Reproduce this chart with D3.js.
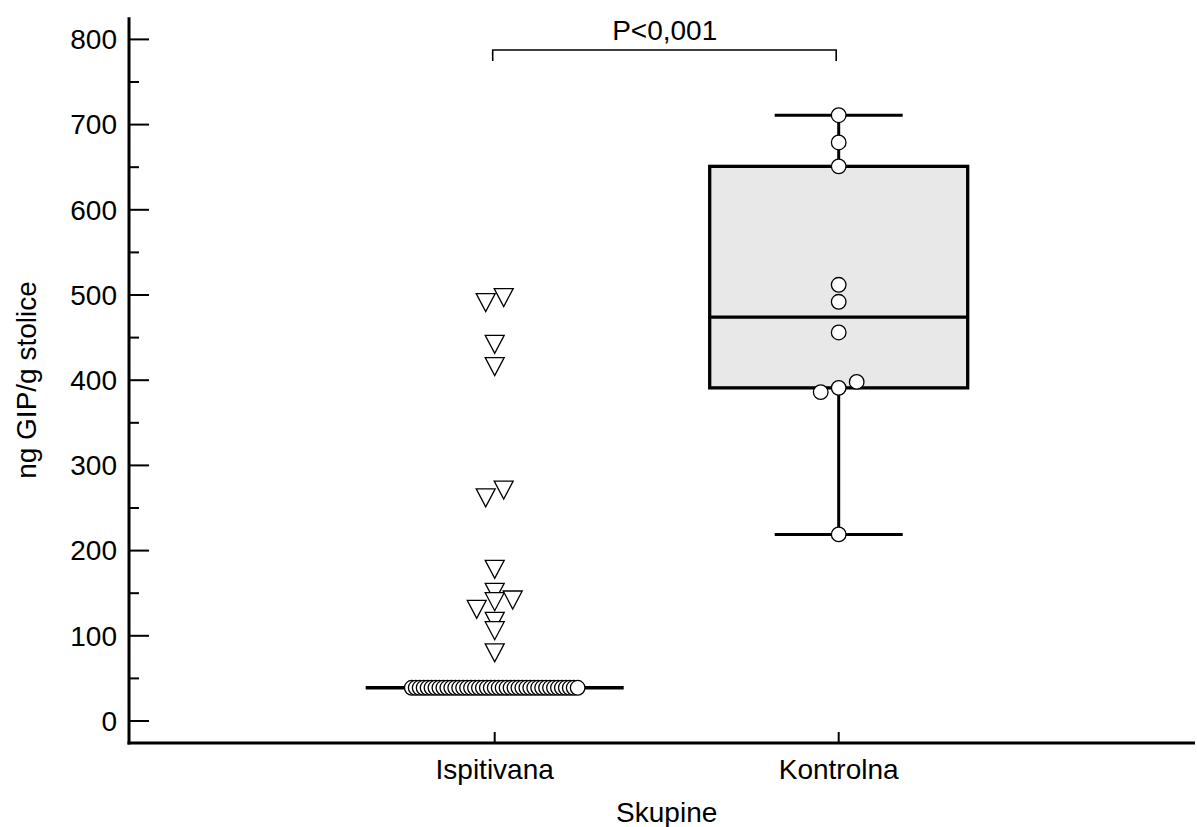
<!DOCTYPE html>
<html>
<head>
<meta charset="utf-8">
<script src="https://cdn.jsdelivr.net/npm/d3@7"></script>
<style>
  body { margin: 0; background: #fff; }
  svg text { font-family: "Liberation Sans", Arial, sans-serif; fill: #000; }
</style>
</head>
<body>
<svg width="1197" height="827"></svg>
<script>
const width = 1197;
const height = 827;

// Data
const categories = ["Ispitivana", "Kontrolna"];
const yTicks = [0, 100, 200, 300, 400, 500, 600, 700, 800];
const yMinorTicks = [50, 150, 250, 350, 450, 550, 650, 750];

// Ispitivana: values at the detection limit (drawn as circles)
const ispitivanaLow = [39, 39, 39, 39, 39, 39, 39, 39, 39, 39, 39, 39, 39, 39, 39, 39, 39, 39, 39, 39, 39, 39,
                       39, 39, 39, 39, 39, 39, 39, 39, 39, 39, 39, 39, 39, 39, 39, 39, 39, 39, 39, 39, 39];
// Ispitivana: outside values (triangles) and their side-by-side slot
const ispitivanaOutliers = [491, 497, 442, 416, 262, 271, 178, 151, 140, 142, 131, 117, 106, 80];
const ispitivanaOutlierSlot = [-0.5, 0.5, 0, 0, -0.5, 0.5, 0, 0, 0, 1, -1, 0, 0, 0];

// Kontrolna values and slot
const kontrolnaValues = [711, 679, 651, 512, 492, 456, 386, 391, 398, 219];
const kontrolnaSlot = [0, 0, 0, 0, 0, 0, -1, 0, 1, 0];

// Box statistics per category
const boxQ1 = [39, 391];
const boxMedian = [39, 474];
const boxQ3 = [39, 651];
const whiskerLow = [39, 219];
const whiskerHigh = [39, 711];

const pValueText = "P<0,001";

const svg = d3.select("svg");

// Scales
const y = d3.scaleLinear()
    .domain([0, 800])
    .range([721, 39.4]);

const x = d3.scalePoint()
    .domain(categories)
    .range([494.7, 838.7]);

const axisLeftX = 129;
const axisBottomY = 743;
const boxHalf = 129;
const capHalf = 64;
const slotStep = 18;
const fontSize = "28px";

// Y axis line
svg.append("line")
    .attr("x1", axisLeftX).attr("x2", axisLeftX)
    .attr("y1", y(826)).attr("y2", axisBottomY + 1.5)
    .attr("stroke", "#000").attr("stroke-width", 3);

// Y major ticks (pointing inside)
svg.selectAll(".ymajor").data(yTicks).enter().append("line")
    .attr("x1", axisLeftX).attr("x2", axisLeftX + 20)
    .attr("y1", d => y(d)).attr("y2", d => y(d))
    .attr("stroke", "#000").attr("stroke-width", 2);

// Y minor ticks
svg.selectAll(".yminor").data(yMinorTicks).enter().append("line")
    .attr("x1", axisLeftX).attr("x2", axisLeftX + 10)
    .attr("y1", d => y(d)).attr("y2", d => y(d))
    .attr("stroke", "#000").attr("stroke-width", 2);

// Y tick labels
svg.selectAll(".ylabel").data(yTicks).enter().append("text")
    .attr("x", axisLeftX - 12)
    .attr("y", d => y(d))
    .attr("dy", "0.35em")
    .attr("text-anchor", "end")
    .attr("font-size", fontSize)
    .text(d => d);

// X axis line
svg.append("line")
    .attr("x1", axisLeftX - 1.5).attr("x2", 1195)
    .attr("y1", axisBottomY).attr("y2", axisBottomY)
    .attr("stroke", "#000").attr("stroke-width", 3);

// X ticks
svg.selectAll(".xtick").data(categories).enter().append("line")
    .attr("x1", d => x(d)).attr("x2", d => x(d))
    .attr("y1", axisBottomY).attr("y2", axisBottomY - 11)
    .attr("stroke", "#000").attr("stroke-width", 2);

// X tick labels
svg.selectAll(".xlabel").data(categories).enter().append("text")
    .attr("x", d => x(d))
    .attr("y", 779)
    .attr("text-anchor", "middle")
    .attr("font-size", fontSize)
    .text(d => d);

// Axis titles
svg.append("text")
    .attr("x", (x(categories[0]) + x(categories[1])) / 2)
    .attr("y", 822)
    .attr("text-anchor", "middle")
    .attr("font-size", fontSize)
    .text("Skupine");

svg.append("text")
    .attr("transform", `translate(36, 380) rotate(-90)`)
    .attr("text-anchor", "middle")
    .attr("font-size", fontSize)
    .text("ng GIP/g stolice");

// Box plots
categories.forEach((c, i) => {
    const cx = x(c);
    const g = svg.append("g");
    // whiskers
    g.append("line")
        .attr("x1", cx).attr("x2", cx)
        .attr("y1", y(boxQ3[i])).attr("y2", y(whiskerHigh[i]))
        .attr("stroke", "#000").attr("stroke-width", 3);
    g.append("line")
        .attr("x1", cx).attr("x2", cx)
        .attr("y1", y(boxQ1[i])).attr("y2", y(whiskerLow[i]))
        .attr("stroke", "#000").attr("stroke-width", 3);
    g.append("line")
        .attr("x1", cx - capHalf).attr("x2", cx + capHalf)
        .attr("y1", y(whiskerHigh[i])).attr("y2", y(whiskerHigh[i]))
        .attr("stroke", "#000").attr("stroke-width", 3);
    g.append("line")
        .attr("x1", cx - capHalf).attr("x2", cx + capHalf)
        .attr("y1", y(whiskerLow[i])).attr("y2", y(whiskerLow[i]))
        .attr("stroke", "#000").attr("stroke-width", 3);
    // box
    if (boxQ3[i] > boxQ1[i]) {
        g.append("rect")
            .attr("x", cx - boxHalf)
            .attr("y", y(boxQ3[i]))
            .attr("width", boxHalf * 2)
            .attr("height", y(boxQ1[i]) - y(boxQ3[i]))
            .attr("fill", "#e8e8e8")
            .attr("stroke", "#000").attr("stroke-width", 3.3);
    }
    // median
    g.append("line")
        .attr("x1", cx - boxHalf).attr("x2", cx + boxHalf)
        .attr("y1", y(boxMedian[i])).attr("y2", y(boxMedian[i]))
        .attr("stroke", "#000").attr("stroke-width", 3.3);
});

// Ispitivana circles, spread side by side
const lowStep = 3.95;
svg.selectAll(".lowpt").data(ispitivanaLow).enter().append("circle")
    .attr("cx", (d, i) => x(categories[0]) + (i - (ispitivanaLow.length - 1) / 2) * lowStep)
    .attr("cy", d => y(d))
    .attr("r", 7.3)
    .attr("fill", "#fff")
    .attr("stroke", "#000").attr("stroke-width", 1.3);

// Ispitivana outside values (down triangles)
const tri = "M-9.5,-9L9.5,-9L0,9Z";
svg.selectAll(".outpt").data(ispitivanaOutliers).enter().append("path")
    .attr("d", tri)
    .attr("transform", (d, i) => `translate(${x(categories[0]) + ispitivanaOutlierSlot[i] * slotStep}, ${y(d)})`)
    .attr("fill", "#fff")
    .attr("stroke", "#000").attr("stroke-width", 1.3);

// Kontrolna circles
svg.selectAll(".kpt").data(kontrolnaValues).enter().append("circle")
    .attr("cx", (d, i) => x(categories[1]) + kontrolnaSlot[i] * slotStep)
    .attr("cy", d => y(d))
    .attr("r", 7.3)
    .attr("fill", "#fff")
    .attr("stroke", "#000").attr("stroke-width", 1.3);

// Significance bracket
const bracketY = 50;
svg.append("path")
    .attr("d", `M${x(categories[0]) - 2},${bracketY + 11}V${bracketY}H${x(categories[1]) - 2.5}V${bracketY + 11}`)
    .attr("fill", "none")
    .attr("stroke", "#000").attr("stroke-width", 1.6);

svg.append("text")
    .attr("x", (x(categories[0]) + x(categories[1])) / 2 - 2)
    .attr("y", 39.5)
    .attr("text-anchor", "middle")
    .attr("font-size", fontSize)
    .text(pValueText);
</script>
</body>
</html>
